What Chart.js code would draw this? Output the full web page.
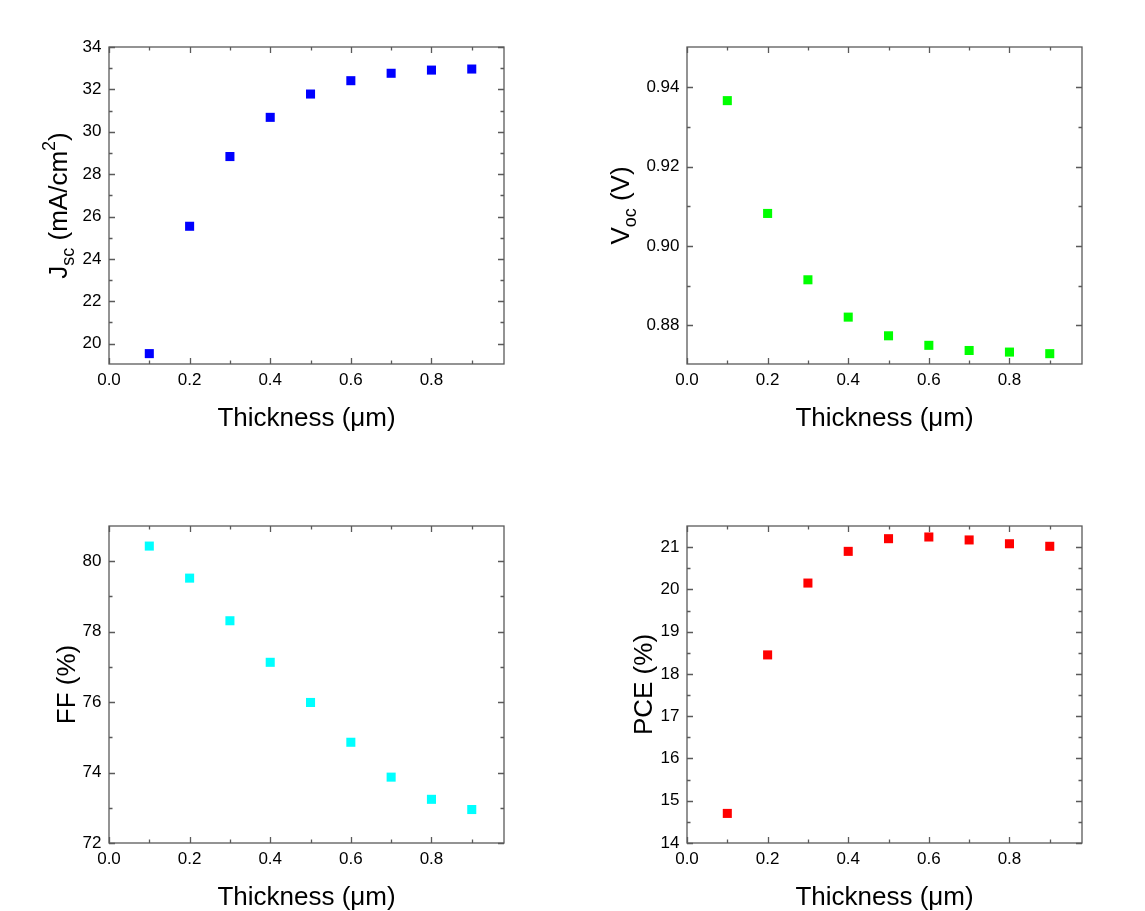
<!DOCTYPE html>
<html>
<head>
<meta charset="utf-8">
<script src="https://cdn.jsdelivr.net/npm/chart.js@4.4.1/dist/chart.umd.min.js"></script>
<style>
  html, body { margin: 0; padding: 0; background: #ffffff; }
  body { width: 1145px; height: 911px; position: relative; overflow: hidden; }
  .panel { position: absolute; }
</style>
</head>
<body>
<div class="panel" id="p1" style="left:0px;top:0px;width:572px;height:455px;"><canvas id="c1"></canvas></div>
<div class="panel" id="p2" style="left:572px;top:0px;width:573px;height:455px;"><canvas id="c2"></canvas></div>
<div class="panel" id="p3" style="left:0px;top:455px;width:572px;height:456px;"><canvas id="c3"></canvas></div>
<div class="panel" id="p4" style="left:572px;top:455px;width:573px;height:456px;"><canvas id="c4"></canvas></div>
<script>
// ---- data ----
const thickness = [0.1, 0.2, 0.3, 0.4, 0.5, 0.6, 0.7, 0.8, 0.9];
const jsc = [19.53, 25.54, 28.83, 30.68, 31.78, 32.41, 32.76, 32.91, 32.96];
const voc = [0.9366, 0.9082, 0.8915, 0.8821, 0.8774, 0.8750, 0.8737, 0.8733, 0.8729];
const ff  = [80.43, 79.52, 78.31, 77.13, 75.99, 74.86, 73.87, 73.24, 72.95];
const pce = [14.70, 18.45, 20.15, 20.90, 21.20, 21.24, 21.17, 21.08, 21.02];

// ---- tick labels ----
const xTicks = [0.0, 0.2, 0.4, 0.6, 0.8];
const xMinor = [0.1, 0.3, 0.5, 0.7, 0.9];
const jscTicks = [20, 22, 24, 26, 28, 30, 32, 34];
const jscMinor = [21, 23, 25, 27, 29, 31, 33];
const vocTicks = [0.88, 0.90, 0.92, 0.94];
const vocMinor = [0.89, 0.91, 0.93];
const ffTicks = [72, 74, 76, 78, 80];
const ffMinor = [73, 75, 77, 79];
const pceTicks = [14, 15, 16, 17, 18, 19, 20, 21];
const pceMinor = [14.5, 15.5, 16.5, 17.5, 18.5, 19.5, 20.5];

const xTitle = 'Thickness (\u03bcm)';
const FONT = "'Liberation Sans', Arial, Helvetica, sans-serif";

const frameTicks = {
  id: 'frameTicks',
  afterDraw(chart, args, o) {
    const ctx = chart.ctx, a = chart.chartArea, xs = chart.scales.x, ys = chart.scales.y;
    ctx.save();
    ctx.strokeStyle = '#5a5a5a';
    ctx.lineWidth = 1.3;
    ctx.beginPath();
    const MAJ = 6, MIN = 3.5;
    const xt = (vals, len) => vals.forEach(v => {
      const p = Math.round(xs.getPixelForValue(v)) + 0.5;
      ctx.moveTo(p, a.bottom); ctx.lineTo(p, a.bottom - len);
      ctx.moveTo(p, a.top); ctx.lineTo(p, a.top + len);
    });
    const yt = (vals, len) => vals.forEach(v => {
      const p = Math.round(ys.getPixelForValue(v)) + 0.5;
      ctx.moveTo(a.left, p); ctx.lineTo(a.left + len, p);
      ctx.moveTo(a.right, p); ctx.lineTo(a.right - len, p);
    });
    xt(o.xMajor, MAJ); xt(o.xMinor, MIN);
    yt(o.yMajor, MAJ); yt(o.yMinor, MIN);
    ctx.stroke();
    ctx.strokeRect(a.left, a.top, a.right - a.left, a.bottom - a.top);
    ctx.restore();

    // x title
    ctx.save();
    ctx.fillStyle = '#000';
    ctx.font = '26px ' + FONT;
    ctx.textAlign = 'center';
    ctx.textBaseline = 'alphabetic';
    ctx.fillText(xTitle, (a.left + a.right) / 2, a.bottom + 62);
    ctx.restore();

    // y title with sub/superscripts
    ctx.save();
    ctx.fillStyle = '#000';
    ctx.textBaseline = 'alphabetic';
    ctx.textAlign = 'left';
    let total = 0;
    o.yTitle.forEach(p => { ctx.font = p.size + 'px ' + FONT; p.w = ctx.measureText(p.t).width; total += p.w; });
    ctx.translate(a.left - o.titleGap, (a.top + a.bottom) / 2 + (o.titleShift || 0));
    ctx.rotate(-Math.PI / 2);
    let x = -total / 2;
    o.yTitle.forEach(p => { ctx.font = p.size + 'px ' + FONT; ctx.fillText(p.t, x, p.dy || 0); x += p.w; });
    ctx.restore();
  }
};

function makeChart(id, values, color, yMin, yMax, yMajor, yMinor, yDec, yTitle, titleGap, padL, padR, padT, yW, xH) {
  const pts = thickness.map((t, i) => ({ x: t, y: values[i] }));
  return new Chart(document.getElementById(id), {
    type: 'scatter',
    data: { datasets: [{ data: pts, pointStyle: 'rect', pointRadius: 6.4, pointHoverRadius: 6.4,
      backgroundColor: color, borderColor: color, borderWidth: 0 }] },
    options: {
      responsive: true, maintainAspectRatio: false, animation: false, devicePixelRatio: 1,
      layout: { padding: { left: padL, right: padR, top: padT, bottom: 0 } },
      plugins: { legend: { display: false }, tooltip: { enabled: false },
        frameTicks: { xMajor: xTicks, xMinor: xMinor, yMajor: yMajor, yMinor: yMinor, yTitle: yTitle, titleGap: titleGap } },
      scales: {
        x: { type: 'linear', min: 0, max: 0.98,
          grid: { display: false, drawTicks: false }, border: { display: false },
          afterBuildTicks: s => { s.ticks = xTicks.map(v => ({ value: v })); },
          afterFit: s => { s.height = xH; },
          ticks: { autoSkip: false, maxRotation: 0, padding: 6, color: '#000',
            font: { family: FONT, size: 17 }, callback: v => Number(v).toFixed(1) } },
        y: { type: 'linear', min: yMin, max: yMax,
          grid: { display: false, drawTicks: false }, border: { display: false },
          afterBuildTicks: s => { s.ticks = yMajor.map(v => ({ value: v })); },
          afterFit: s => { s.width = yW; },
          ticks: { autoSkip: false, padding: 7.5, color: '#000',
            font: { family: FONT, size: 17 }, callback: v => Number(v).toFixed(yDec) } }
      }
    },
    plugins: [frameTicks]
  });
}

makeChart('c1', jsc, '#0000ff', 19.04, 34, jscTicks, jscMinor, 0,
  [{ t: 'J', size: 26 }, { t: 'sc', size: 18, dy: 7 }, { t: ' (mA/cm', size: 26 }, { t: '2', size: 18, dy: -12 }, { t: ')', size: 26 }],
  42, 0, 68, 47, 109, 91);
makeChart('c2', voc, '#00ff00', 0.8703, 0.9501, vocTicks, vocMinor, 2,
  [{ t: 'V', size: 26 }, { t: 'oc', size: 18, dy: 7 }, { t: ' (V)', size: 26 }],
  58, 0, 63, 47, 115, 91);
makeChart('c3', ff, '#00ffff', 72, 81, ffTicks, ffMinor, 0,
  [{ t: 'FF (%)', size: 26 }],
  34, 0, 68, 71, 109, 68);
makeChart('c4', pce, '#ff0000', 14, 21.5, pceTicks, pceMinor, 0,
  [{ t: 'PCE (%)', size: 26 }],
  35, 0, 63, 71, 115, 68);
</script>
</body>
</html>
